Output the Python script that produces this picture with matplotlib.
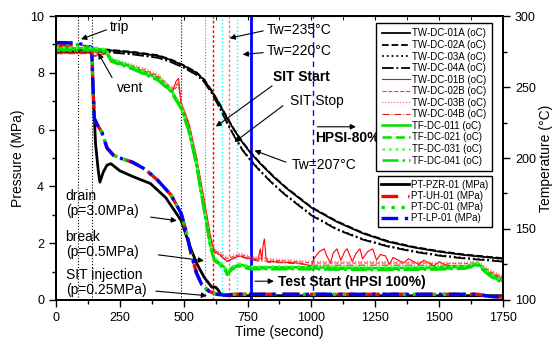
import numpy as np
import matplotlib
matplotlib.use("Agg")
import matplotlib.pyplot as plt

plt.rcParams['font.family'] = ['Liberation Sans', 'DejaVu Sans']

# ---- temperature data (right axis, oC) ----
t_tw = [0, 100, 200, 300, 400, 450, 500, 550, 580, 610, 640, 670, 700, 730, 760,
        800, 850, 900, 1000, 1100, 1200, 1300, 1400, 1500, 1600, 1750]
tw_hot = [277, 276.8, 276, 274.4, 272, 269, 265, 260, 255, 247, 238, 228, 219, 211, 204,
          196, 187, 179, 165, 155, 147, 141, 137, 134, 131.6, 129]
tw_cold = [276, 275.8, 275, 273.4, 271, 268, 264, 259, 254, 246, 236, 225, 215, 206, 199,
           191, 182, 174, 160, 150, 143, 138, 134.4, 131.6, 129.6, 127.4]

t_tf = [0, 140, 160, 195, 215, 230, 300, 350, 400, 450, 490, 520, 550, 580, 605, 620,
        640, 660, 670, 690, 720, 760, 850, 1000, 1250, 1500, 1600, 1650, 1700, 1750]
tf_val = [277.4, 277.2, 277, 276, 270, 268.4, 264, 260, 256, 248, 236, 220, 196, 164, 138, 129,
          126, 123, 119, 123, 125, 123, 123, 123, 122.4, 122.8, 123.4, 125.6, 118, 113]

t_twb = [0, 140, 150, 170, 200, 215, 240, 300, 350, 400, 440, 455, 470, 480, 490, 520, 550,
         580, 605, 620, 640, 670, 700, 720, 760, 790, 800, 805, 812, 816, 822, 830, 850, 950,
         1000, 1010, 1030, 1050, 1060, 1075, 1085, 1100, 1115, 1130, 1140, 1160, 1175, 1190,
         1200, 1220, 1240, 1255, 1270, 1290, 1305, 1320, 1340, 1360, 1380, 1400, 1420, 1440,
         1460, 1480, 1500, 1520, 1550, 1600, 1650, 1700, 1750]
twb_val = [274, 274, 272, 273, 274, 268, 267, 264, 261, 257, 249, 246, 254, 256, 238, 224, 200,
           170, 144, 134, 132, 127, 130, 131, 129, 128, 136, 128, 140, 143, 130, 127, 127, 126,
           124, 129, 134, 136, 131, 126, 133, 136, 128, 134, 136, 127, 133, 136,
           129, 134, 136, 128, 132, 131, 125, 130, 128, 126, 129, 127, 125, 128,
           126, 124, 127, 125, 124, 124, 125.5, 119, 115]
twb_smooth = [274, 274, 272, 273, 274, 268, 267, 264, 261, 257, 250, 248, 250, 252, 238, 224, 200,
              170, 144, 134, 132, 128, 130, 131, 129, 128, 128, 128, 128, 128, 128, 127, 127, 126,
              125, 125, 125, 125, 125, 125, 125, 125, 125, 125, 125, 125, 125, 125,
              125, 125, 125, 125, 125, 125, 125, 125, 125, 125, 125, 125, 125, 125,
              125, 124.5, 124.5, 124.5, 124.5, 124.5, 125.5, 119, 115]

# ---- pressure data (left axis, MPa) ----
t_p = [0, 85, 120, 140, 145, 150, 160, 180, 200, 225, 250, 300, 350, 400, 450, 490, 510,
       530, 550, 570, 600, 630, 660, 700, 800, 1000, 1250, 1500, 1650, 1700, 1750]
p_lp = [9.07, 9.05, 8.95, 8.9, 7.5, 6.4, 6.2, 5.9, 5.35, 5.1, 5.0, 4.85, 4.6, 4.2, 3.7, 3.05,
        2.4, 1.6, 0.95, 0.55, 0.3, 0.2, 0.17, 0.2, 0.2, 0.2, 0.2, 0.2, 0.2, 0.12, 0.1]
p_uh = [8.97, 8.97, 8.92, 8.88, 7.5, 6.4, 6.2, 5.9, 5.35, 5.1, 5.0, 4.85, 4.6, 4.2, 3.7, 3.05,
        2.4, 1.6, 0.95, 0.55, 0.3, 0.2, 0.17, 0.2, 0.2, 0.2, 0.2, 0.2, 0.2, 0.12, 0.1]
p_dc = [9.0, 9.0, 8.93, 8.89, 7.5, 6.4, 6.2, 5.9, 5.35, 5.1, 5.0, 4.85, 4.6, 4.2, 3.7, 3.05,
        2.4, 1.6, 0.95, 0.55, 0.3, 0.2, 0.17, 0.2, 0.2, 0.2, 0.2, 0.2, 0.2, 0.12, 0.1]
t_pzr = [0, 140, 145, 155, 165, 172, 185, 200, 215, 250, 300, 370, 430, 490, 520, 550, 580,
         610, 625, 635, 645, 660, 700, 1750]
p_pzr = [8.75, 8.75, 7.5, 5.5, 4.6, 4.15, 4.5, 4.75, 4.8, 4.55, 4.35, 4.1, 3.6, 2.8, 2.0, 1.3,
         0.8, 0.45, 0.45, 0.35, 0.2, 0.15, 0.15, 0.15]

fig = plt.figure(figsize=(5.54, 3.42), dpi=100)
ax = fig.add_axes([0.101, 0.123, 0.807, 0.830])
ax2 = ax.twinx()

# event lines
ax.axvline(86, color='black', ls=':', lw=0.8)
ax.axvline(142, color='black', ls=':', lw=0.8)
ax.axvline(491, color='black', ls=':', lw=0.8)
ax.axvline(585, color='gray', ls=':', lw=0.8)
ax.axvline(613, color='red', ls=(0, (2, 1.5)), lw=1)
ax.axvline(648, color='cyan', ls=':', lw=1)
ax.axvline(676, color='#ff7070', ls=(0, (2, 1.5)), lw=1)
ax.axvline(707, color='cyan', ls=':', lw=1)
ax.axvline(762, color='blue', ls='-', lw=2)
ax.axvline(1005, color='blue', ls=(0, (4, 3)), lw=1)

# pressure
ax.plot(t_pzr, p_pzr, color='black', lw=2, label='PT-PZR-01 (MPa)')
ax.plot(t_p, p_uh, color='red', lw=2.4, ls=(0, (5, 3)), label='PT-UH-01 (MPa)')
ax.plot(t_p, p_dc, color='#00e000', lw=2.4, ls=(0, (1, 2)), label='PT-DC-01 (MPa)')
ax.plot(t_p, p_lp, color='blue', lw=2.4, ls=(0, (5, 2, 1, 2)), label='PT-LP-01 (MPa)')

# temperature
l_a = []
l_a += ax2.plot(t_tw, tw_hot, color='black', lw=1.3, ls='-', label='TW-DC-01A (oC)')
l_a += ax2.plot(t_tw, np.array(tw_hot) + 0.4, color='black', lw=1.3, ls='--', label='TW-DC-02A (oC)')
l_a += ax2.plot(t_tw, tw_cold, color='black', lw=1.3, ls=':', label='TW-DC-03A (oC)')
l_a += ax2.plot(t_tw, np.array(tw_cold) - 0.4, color='black', lw=1.3, ls='-.', label='TW-DC-04A (oC)')
l_a += ax2.plot(t_twb, twb_val, color='red', lw=0.8, ls='-', label='TW-DC-01B (oC)')
l_a += ax2.plot(t_twb, np.array(twb_smooth) + 1, color='#ff3030', lw=0.8, ls='--', label='TW-DC-02B (oC)')
l_a += ax2.plot(t_twb, np.array(twb_smooth) + 2, color='#ff6060', lw=0.8, ls=':', label='TW-DC-03B (oC)')
l_a += ax2.plot(t_twb, np.array(twb_smooth) - 0.5, color='#e02020', lw=0.8, ls='-.', label='TW-DC-04B (oC)')
l_a += ax2.plot(t_tf, tf_val, color='#00e000', lw=1.8, ls='-', label='TF-DC-011 (oC)')
l_a += ax2.plot(t_tf, np.array(tf_val) - 0.8, color='#00e000', lw=1.8, ls='--', label='TF-DC-021 (oC)')
l_a += ax2.plot(t_tf, np.array(tf_val) + 0.6, color='#40ff40', lw=1.8, ls=':', label='TF-DC-031 (oC)')
l_a += ax2.plot(t_tf, np.array(tf_val) - 1.4, color='#00e000', lw=1.8, ls='-.', label='TF-DC-041 (oC)')

ax.set_xlim(0, 1750)
ax.set_ylim(0, 10)
ax2.set_ylim(100, 300)
ax.set_xticks(np.arange(0, 1751, 250))
ax.set_xticks(np.arange(0, 1751, 125), minor=True)
ax.set_yticks(np.arange(0, 11, 2))
ax.set_yticks(np.arange(0, 11, 1), minor=True)
ax2.set_yticks(np.arange(100, 301, 50))
ax2.set_yticks(np.arange(100, 301, 25), minor=True)
for a in (ax, ax2):
    a.tick_params(which='major', direction='out', length=5, width=1, labelsize=9)
    a.tick_params(which='minor', direction='out', length=3, width=1)
    for s in a.spines.values():
        s.set_linewidth(1.3)
sec = ax.secondary_xaxis('top')
sec.set_xticks(np.arange(0, 1751, 250))
sec.set_xticks(np.arange(0, 1751, 125), minor=True)
sec.tick_params(which='both', direction='in', labeltop=False, length=3)

ax.set_xlabel('Time (second)', fontsize=10, labelpad=1)
ax.set_ylabel('Pressure (MPa)', fontsize=10, labelpad=4)
ax2.set_ylabel('Temperature (°C)', fontsize=10, labelpad=2)

# annotations (in pressure/time coordinates)
arw = dict(arrowstyle='-|>', color='black', lw=0.8, mutation_scale=8)
T = ax.transData
def note(txt, tail, head, tpos, bold=False, ha='left'):
    ax2.annotate('', xy=head, xytext=tail, xycoords=T, textcoords=T, arrowprops=arw)
    ax2.text(tpos[0], tpos[1], txt, transform=T, fontsize=10, ha=ha, va='center',
             fontweight='bold' if bold else 'normal', linespacing=1.1)

note('trip', (208, 9.55), (88, 9.15), (212, 9.6))
note('vent', (225, 7.75), (160, 8.78), (238, 7.45))
note('Tw=235°C', (822, 9.5), (669, 9.2), (826, 9.5))
note('Tw=220°C', (822, 8.72), (720, 8.64), (826, 8.77))
note('SIT Start', (855, 7.6), (617, 6.05), (850, 7.85), bold=True)
note('SIT Stop', (897, 6.9), (690, 5.5), (918, 7.0))
note('Tw=207°C', (910, 4.82), (767, 5.3), (924, 4.75))
note('HPSI-80%', (1012, 6.1), (1185, 6.1), (1014, 5.7), bold=True)
note('drain\n(p=3.0MPa)', (360, 2.93), (484, 2.78), (38, 3.4))
note('break\n(p=0.5MPa)', (390, 1.6), (590, 1.37), (38, 1.95))
note('SIT injection\n(p=0.25MPa)', (380, 0.32), (602, 0.14), (38, 0.6))
note('Test Start (HPSI 100%)', (768, 0.66), (864, 0.66), (869, 0.63), bold=True)

leg1 = ax2.legend(handles=l_a, loc='upper right', bbox_to_anchor=(0.975, 0.977),
                  fontsize=7, frameon=True, fancybox=False, edgecolor='black', framealpha=1,
                  handlelength=2.9, handletextpad=0.2, labelspacing=0.16, borderpad=0.6,
                  borderaxespad=0)
leg1.get_frame().set_linewidth(1)
ax2.add_artist(leg1)
h_p, lab_p = ax.get_legend_handles_labels()
leg2 = ax2.legend(h_p, lab_p, loc='upper right', bbox_to_anchor=(0.975, 0.435),
                  fontsize=7, frameon=True, fancybox=False, edgecolor='black', framealpha=1,
                  handlelength=2.9, handletextpad=0.2, labelspacing=0.12, borderpad=0.35,
                  borderaxespad=0)
leg2.get_frame().set_linewidth(1)

fig.savefig('out.png', dpi=100)
